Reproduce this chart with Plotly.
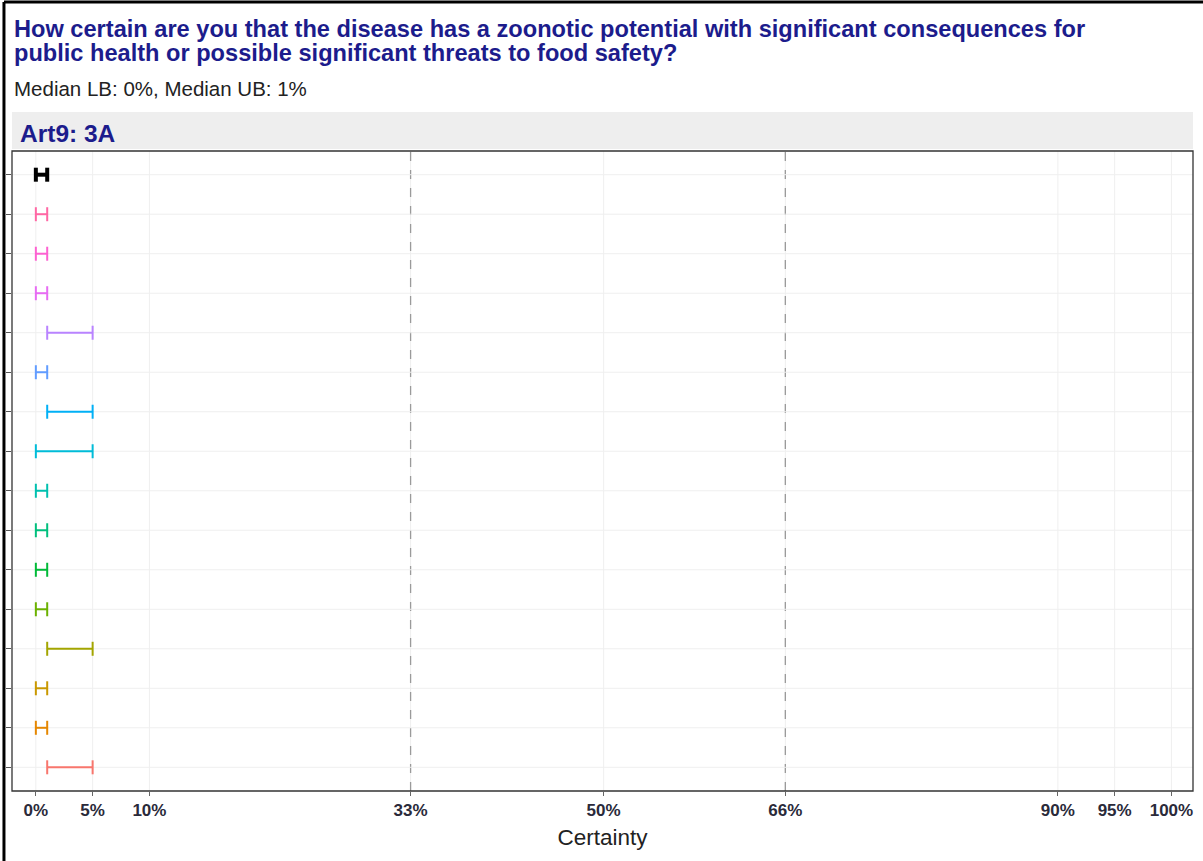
import plotly.graph_objects as go

# Data (top row first)
respondents = ["Median", "E15", "E14", "E13", "E12", "E11", "E10", "E9",
               "E8", "E7", "E6", "E5", "E4", "E3", "E2", "E1"]
lower = [0, 0, 0, 0, 1, 0, 1, 0, 0, 0, 0, 0, 1, 0, 0, 1]
upper = [1, 1, 1, 1, 5, 1, 5, 5, 1, 1, 1, 1, 5, 1, 1, 5]
colors = ["#000000", "#FF67A4", "#FD61D1", "#E76BF3", "#B983FF", "#619CFF",
          "#00B0F6", "#00BCD8", "#00C0AF", "#00BF7D", "#00BA38", "#6BB100",
          "#A3A500", "#C99800", "#E58700", "#F8766D"]
tick_vals = [0, 5, 10, 33, 50, 66, 90, 95, 100]
tick_text = ["0%", "5%", "10%", "33%", "50%", "66%", "90%", "95%", "100%"]
dashed_at = [33, 66]
title_lines = ["How certain are you that the disease has a zoonotic potential with significant consequences for",
               "public health or possible significant threats to food safety?"]
subtitle = "Median LB: 0%, Median UB: 1%"
strip_label = "Art9: 3A"

PLOT_TOP, PLOT_H = 151, 640


def py(ypix):
    return (PLOT_TOP + PLOT_H - ypix) / PLOT_H


n = len(respondents)
fig = go.Figure()
for i, name in enumerate(respondents):
    yv = n - 1 - i
    is_med = (i == 0)
    fig.add_trace(go.Scatter(
        x=[lower[i], upper[i]], y=[yv, yv], mode="lines+markers",
        line=dict(color=colors[i], width=4 if is_med else 2),
        marker=dict(symbol="line-ns", size=10,
                    line=dict(color=colors[i], width=4 if is_med else 2)),
        name=name, showlegend=False, hoverinfo="x+name"))

shapes = []
for v in tick_vals:
    shapes.append(dict(type="line", xref="x", yref="paper", x0=v, x1=v, y0=0, y1=1,
                       line=dict(color="#efefef", width=1), layer="below"))
for v in dashed_at:
    shapes.append(dict(type="line", xref="x", yref="paper", x0=v, x1=v, y0=0, y1=1,
                       line=dict(color="#9a9a9a", width=1.3, dash="dash"), layer="below"))
for i in range(n):
    shapes.append(dict(type="line", xref="paper", yref="y", x0=0, x1=1, y0=i, y1=i,
                       line=dict(color="#efefef", width=1), layer="below"))
# strip header
shapes.append(dict(type="rect", xref="paper", yref="paper", x0=0, x1=1,
                   y0=py(149), y1=py(112), fillcolor="#eeeeee", line=dict(width=0)))
# panel border
shapes.append(dict(type="rect", xref="paper", yref="paper", x0=0, x1=1, y0=0, y1=1,
                   line=dict(color="#333333", width=1.3)))
# outer frame (left and top)
shapes.append(dict(type="line", xref="paper", yref="paper", x0=-0.0068, x1=-0.0068,
                   y0=-0.2, y1=py(2), line=dict(color="#000000", width=3)))
shapes.append(dict(type="line", xref="paper", yref="paper", x0=-0.0068, x1=1.02,
                   y0=py(2), y1=py(2), line=dict(color="#000000", width=3)))

TFONT = "Liberation Sans, Arial"
annotations = [
    dict(xref="paper", yref="paper", x=0.0, y=py(29.5), xanchor="left", yanchor="middle",
         text="<b>%s</b>" % title_lines[0], showarrow=False,
         font=dict(family=TFONT, size=23.6, color="#1c1c8c")),
    dict(xref="paper", yref="paper", x=0.0, y=py(53), xanchor="left", yanchor="middle",
         text="<b>%s</b>" % title_lines[1], showarrow=False,
         font=dict(family=TFONT, size=23.6, color="#1c1c8c")),
    dict(xref="paper", yref="paper", x=0.0, y=py(88), xanchor="left", yanchor="middle",
         text=subtitle, showarrow=False,
         font=dict(family=TFONT, size=20.5, color="#222222")),
    dict(xref="paper", yref="paper", x=0.005, y=py(134), xanchor="left", yanchor="middle",
         text="<b>%s</b>" % strip_label, showarrow=False,
         font=dict(family=TFONT, size=24.5, color="#1c1c8c")),
]

fig.update_layout(
    width=1203, height=861,
    margin=dict(l=12, r=10, t=PLOT_TOP, b=861 - PLOT_TOP - PLOT_H, autoexpand=False),
    paper_bgcolor="white", plot_bgcolor="white",
    shapes=shapes, annotations=annotations,
    xaxis=dict(range=[-2.1, 101.9], tickvals=tick_vals,
               ticktext=["<b>%s</b>" % t for t in tick_text],
               showgrid=False, zeroline=False, ticks="outside", ticklen=4,
               tickcolor="#666666", automargin=False,
               tickfont=dict(family="Liberation Sans Narrow, Arial Narrow, Liberation Sans", size=17, color="#2a2a3a"),
               title=dict(text="Certainty", standoff=9,
                          font=dict(family=TFONT, size=22.5, color="#222222"))),
    yaxis=dict(range=[-0.6, n - 0.4], tickvals=list(range(n)),
               showgrid=False, zeroline=False, ticks="outside", ticklen=5,
               tickcolor="#555555", showticklabels=False, automargin=False),
)

fig.write_html("out.html", config={"displayModeBar": False},
               post_script="document.body.style.margin='0';document.body.style.overflow='hidden';")
